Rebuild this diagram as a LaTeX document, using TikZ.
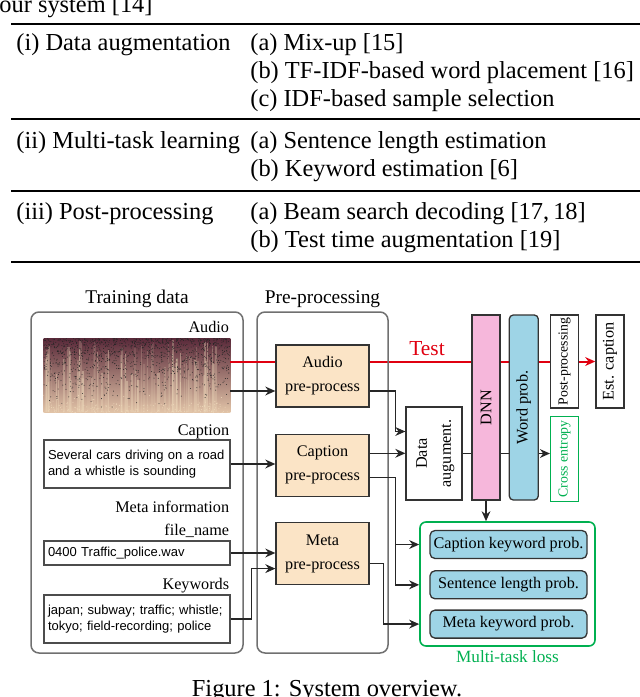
\documentclass[tikz,border=0pt]{standalone}
\usepackage{fontspec}
\setmainfont{Liberation Serif}
\newfontfamily\arialfont{Liberation Sans}
\usepackage{graphicx}
\usepackage{tikz}
\usetikzlibrary{arrows.meta, positioning, calc, backgrounds}

\definecolor{ppfill}{HTML}{FBE4C6}
\definecolor{dnnfill}{HTML}{F6B7DB}
\definecolor{probfill}{HTML}{9ED4E6}
\definecolor{lossgreen}{HTML}{00B050}
\definecolor{testred}{HTML}{E00010}
\definecolor{groupgray}{HTML}{707070}
\definecolor{specdark}{HTML}{5A2A3A}
\definecolor{specmid}{HTML}{A06A74}
\definecolor{speclight}{HTML}{E2C4A8}
\definecolor{specstreak}{HTML}{EDD8BA}

\newcommand{\tabfont}{\fontsize{12.2}{14}\selectfont}
\newcommand{\headfont}{\fontsize{9.7}{12}\selectfont}
\newcommand{\lblfont}{\fontsize{8.1}{12}\selectfont}
\newcommand{\smallfont}{\fontsize{6.9}{9}\selectfont}
\newcommand{\boxfont}{\arialfont\fontsize{6.5}{8}\selectfont}

\begin{document}
\begin{tikzpicture}[
    x=0.5pt, y=-0.5pt,
    tabrow/.style  ={anchor=base west, font=\tabfont, inner sep=0pt},
    group/.style   ={rectangle, draw=groupgray, line width=0.75pt, rounded corners=4pt},
    pp/.style      ={rectangle, draw=black!80, fill=ppfill, line width=0.65pt, minimum width=46.5pt, minimum height=31pt, inner sep=0pt, align=center, font=\lblfont},
    txt/.style     ={rectangle, draw=black!70, line width=0.55pt, text width=89pt, minimum height=24pt, inner xsep=2pt, inner ysep=0pt, align=left, font=\boxfont},
    lbl/.style     ={anchor=base east, font=\lblfont, inner sep=0pt},
    vbox/.style    ={rectangle, draw=black!80, line width=0.65pt, minimum width=14pt, inner sep=0pt, font=\lblfont},
    prob/.style    ={rectangle, draw=black!80, fill=probfill, line width=0.65pt, rounded corners=2.5pt, minimum width=78.5pt, minimum height=14pt, inner sep=0pt, font=\lblfont},
    arrow/.style   ={-{Stealth[length=5pt, width=4.4pt]}, line width=0.75pt, black!85},
    testline/.style={draw=testred, line width=1pt},
    ]
    \useasboundingbox (0,0) rectangle (640,697);

    % --- Table ---
    \node[tabrow] (tab_top) at (-1,12) {our system [14]};
    \draw[line width=1.4pt] (11,24) -- (640,24);
    \node[tabrow] (aug) at (16,50) {(i) Data augmentation};
    \node[tabrow] (aug_a) at (250,50) {(a) Mix-up [15]};
    \node[tabrow] (aug_b) at (250,78) {(b) TF-IDF-based word placement [16]};
    \node[tabrow] (aug_c) at (250,106) {(c) IDF-based sample selection};
    \draw[line width=0.7pt] (11,119) -- (640,119);
    \node[tabrow] (mtask) at (16,148) {(ii) Multi-task learning};
    \node[tabrow] (mtask_a) at (250,148) {(a) Sentence length estimation};
    \node[tabrow] (mtask_b) at (250,176) {(b) Keyword estimation [6]};
    \draw[line width=0.7pt] (11,191) -- (640,191);
    \node[tabrow] (post_proc) at (16,219) {(iii) Post-processing};
    \node[tabrow] (post_a) at (250,219) {(a) Beam search decoding [17,\,18]};
    \node[tabrow] (post_b) at (250,247) {(b) Test time augmentation [19]};
    \draw[line width=1.4pt] (11,262) -- (640,262);

    % --- Training data ---
    \node[group, minimum width=106pt, minimum height=170.5pt] (train) at (137,482.5) {};
    \node[anchor=base, font=\headfont] (train_lbl) at ($(train.north)+(0,-8)$) {Training data};

    \node[minimum width=93pt, minimum height=36.5pt, inner sep=0pt] (spec) at (137,375.5) {};
    \begin{scope}
        \clip (spec.south west) rectangle (spec.north east);
        \shade[top color=specdark, middle color=specmid, bottom color=speclight] (spec.south west) rectangle (spec.north east);
        \pgfmathsetseed{14}
        \foreach \i in {1,...,80}{
            \pgfmathsetmacro{\op}{0.1+0.35*rnd}
            \fill[specstreak, opacity=\op] ($(spec.south west)+({186*rnd},0)$) rectangle ++({0.5+2*rnd},{-30-43*rnd});
        }
        \foreach \i in {1,...,1300}{
            \fill[black!85] ($(spec.north west)+({186*rnd},{70*rnd*rnd})$) circle (0.24pt);
        }
        \foreach \i in {1,...,200}{
            \fill[specstreak] ($(spec.south west)+({186*rnd},{-18*rnd*rnd})$) circle (0.25pt);
        }
    \end{scope}
    \node[lbl] (audio_lbl) at ($(spec.north east)+(-1,-6)$) {Audio};

    \node[txt] (capbox) at (137,464) {Several cars driving on a road\\and a whistle is sounding};
    \node[lbl] (cap_lbl) at ($(capbox.north east)+(-1,-4)$) {Caption};
    \node[txt, minimum height=12pt] (filebox) at (137,553) {0400 Traffic\_police.wav};
    \node[lbl] (file_lbl) at ($(filebox.north east)+(-1,-5)$) {file\_name};
    \node[lbl] (meta_lbl) at ($(filebox.north east)+(-1,-28)$) {Meta information};
    \node[txt] (kwbox) at (137,619) {japan; subway; traffic; whistle;\\tokyo; field-recording; police};
    \node[lbl] (kw_lbl) at ($(kwbox.north east)+(-1,-5)$) {Keywords};

    % --- Pre-processing ---
    \node[group, minimum width=65.5pt, minimum height=170.5pt] (prep) at (322.5,482.5) {};
    \node[anchor=base, font=\headfont] (prep_lbl) at ($(prep.north)+(0,-8)$) {Pre-processing};
    \node[pp] (aupp) at (322.5,376) {Audio\\pre-process};
    \node[pp, below=13pt of aupp] (cpp) {Caption\\pre-process};
    \node[pp, below=12.5pt of cpp] (mpp) {Meta\\pre-process};

    % --- Model ---
    \node[vbox, fill=white, minimum width=28pt, minimum height=46.5pt] (daug) at (434,453.5)
        {\rotatebox{90}{\begin{tabular}{@{}c@{}}Data\\augument.\end{tabular}}};
    \node[vbox, fill=dnnfill, minimum height=92.5pt] (dnn) at (486,407.5) {\rotatebox{90}{DNN}};
    \node[vbox, fill=probfill, rounded corners=2pt, minimum width=14.5pt, minimum height=92.5pt, right=4pt of dnn] (word) {\rotatebox{90}{Word prob.}};
    \node[vbox, fill=white, minimum height=46.5pt, right=5.5pt of word.north east, anchor=north west, font=\smallfont] (post) {\rotatebox{90}{Post-processing}};
    \node[vbox, fill=white, minimum height=46.5pt, right=8pt of post] (estcap) {\rotatebox{90}{Est. caption}};
    \node[vbox, draw=lossgreen, text=lossgreen, minimum height=42.5pt, below=3.5pt of post.south west, anchor=north west, font=\smallfont] (xent) {\rotatebox{90}{Cross entropy}};
    \node[anchor=base, text=testred, font=\fontsize{10.7}{12}\selectfont] (test_lbl) at (427,355) {Test};

    % --- Multi-task loss ---
    \node[rectangle, draw=lossgreen, line width=0.8pt, rounded corners=3pt, minimum width=87.5pt, minimum height=62pt] (mtl) at (507.5,584) {};
    \node[prob] (ckw) at (508.5,544.5) {Caption keyword prob.};
    \node[prob, below=5.5pt of ckw] (slen) {Sentence length prob.};
    \node[prob, below=5pt of slen] (mkw) {Meta keyword prob.};
    \node[anchor=base, text=lossgreen, font=\fontsize{8.6}{10}\selectfont] (mtl_lbl) at ($(mtl.south)+(0,16)$) {Multi-task loss};

    % --- Connections ---
    \draw[testline] (spec.east |- estcap) -- (aupp.west |- estcap);
    \begin{scope}[on background layer]
        \draw[testline, -{Stealth[length=5pt, width=4.4pt]}] (aupp.east |- estcap) -- (estcap.west);
        \draw[arrow] (daug.east) -- (xent.west |- daug.east);
    \end{scope}

    \coordinate (a_in) at ($(aupp.west)+(0,15)$);
    \draw[arrow] (spec.east |- a_in) -- (a_in);
    \draw[arrow] (capbox.east) -- (cpp.west |- capbox.east);
    \draw[arrow] (filebox.east) -- (mpp.west |- filebox.east);
    \coordinate (m_in) at ($(mpp.west)+(0,15)$);
    \draw[arrow] (kwbox.east) -- ++(21,0) |- (m_in);

    \coordinate (d_in) at ($(daug.west)+(0,-22)$);
    \draw[arrow] ($(aupp.east)+(0,15)$) -- ++(26,0) |- (d_in);
    \coordinate (c_out) at ($(cpp.east)+(0,-12)$);
    \draw[arrow] (c_out) -- (daug.west |- c_out);
    \draw[arrow] ($(cpp.east)+(0,12)$) -- ++(26,0) |- (mtl.west |- ckw);
    \draw[arrow] ($(cpp.east)+(0,12)$) -- ++(26,0) |- (mtl.west |- slen);
    \draw[arrow] ($(mpp.east)+(0,10)$) -- ++(14,0) |- (mtl.west |- mkw);
    \draw[arrow] (dnn.south) -- (dnn.south |- mtl.north);

    % --- Caption ---
    \node[anchor=base, font=\tabfont] (fig_cap) at (327,696) {Figure 1: System overview.};
\end{tikzpicture}
\end{document}
